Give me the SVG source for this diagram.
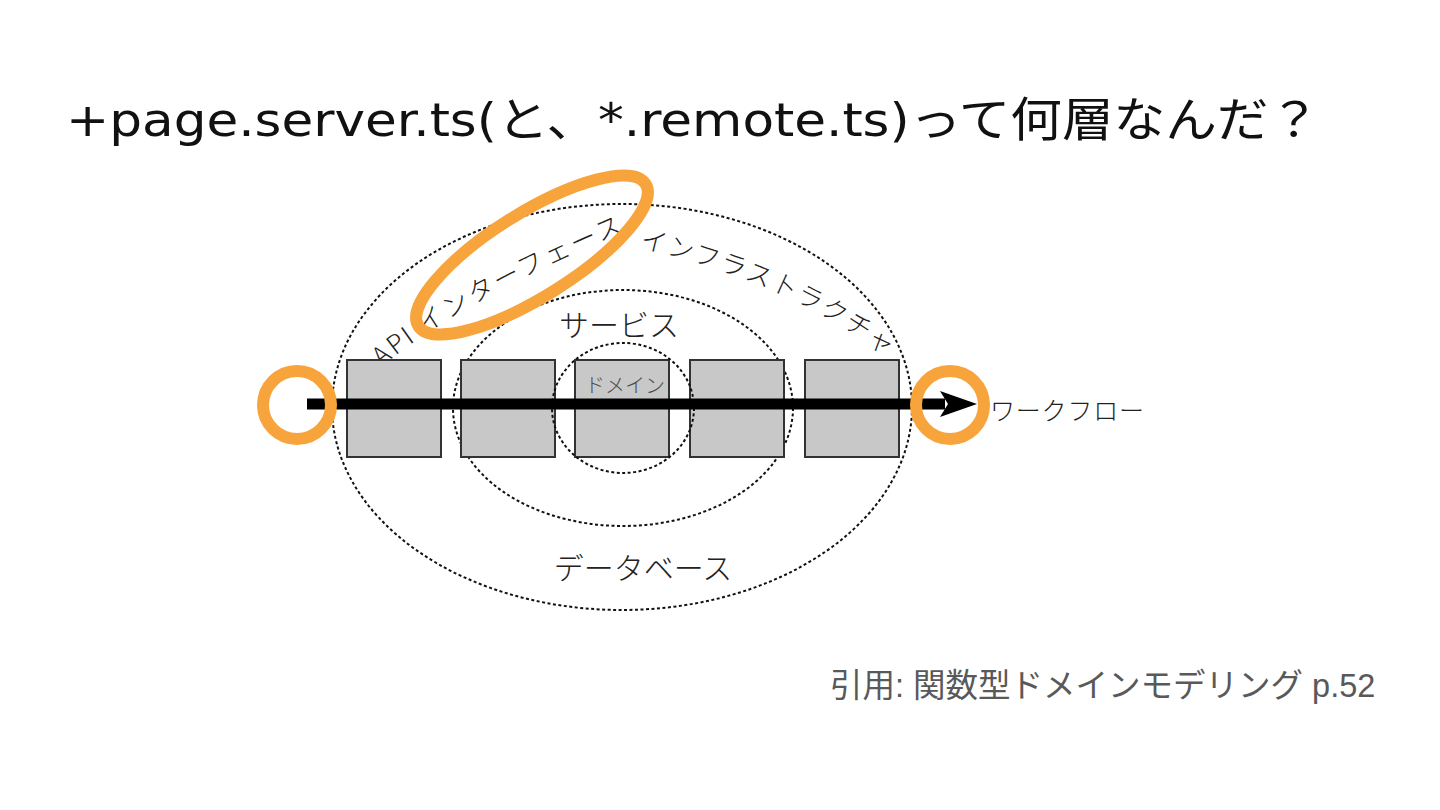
<svg xmlns="http://www.w3.org/2000/svg" xmlns:xlink="http://www.w3.org/1999/xlink" width="1440" height="810" viewBox="0 0 1440 810">
  <style>
    .title { font-family: "DejaVu Sans", "Noto Sans CJK JP", sans-serif; font-size: 47px; fill: #111; }
    .cite { font-family: "Liberation Sans", "Noto Sans CJK JP", sans-serif; font-size: 32.5px; fill: #595959; }
    .lbl { font-family: "Noto Sans CJK JP", "Noto Sans", sans-serif; fill: #222; font-weight: 300; }
    .layer { fill: none; stroke: #111; stroke-width: 2; stroke-dasharray: 3 2.5; }
    .box { fill: #c8c8c8; stroke: #333; stroke-width: 2; }
    .hl { fill: none; stroke: #F7A43C; stroke-width: 12; }
  </style>
  <defs>
    <marker id="head" viewBox="0 0 40 28" refX="5" refY="14" markerWidth="40" markerHeight="28" markerUnits="userSpaceOnUse" orient="auto">
      <path d="M0,1 L37,14 L0,27 L8,14 Z" fill="#000"/>
    </marker>
    <path id="apiPath" d="M 374 358 Q 452 290 640 212"/>
    <path id="infraPath" d="M 642 236 Q 800 272 900 352"/>
  </defs>

  <rect x="0" y="0" width="1440" height="810" fill="#fff"/>

  <text class="title" x="66" y="136" textLength="1254" lengthAdjust="spacingAndGlyphs">+page.server.ts(と、*.remote.ts)って何層なんだ？</text>

  <g id="layer-database">
    <ellipse class="layer" cx="622" cy="407" rx="290" ry="203"/>
    <text class="lbl" x="643" y="579" font-size="30" text-anchor="middle">データベース</text>
  </g>
  <g id="layer-service">
    <ellipse class="layer" cx="623" cy="408" rx="170" ry="118"/>
    <text class="lbl" x="619" y="336" font-size="30" text-anchor="middle">サービス</text>
  </g>
  <g id="label-api">
    <text class="lbl" font-size="26" dominant-baseline="central" letter-spacing="3"><textPath href="#apiPath" xlink:href="#apiPath">API インターフェース</textPath></text>
  </g>
  <g id="label-infra">
    <text class="lbl" font-size="26" dominant-baseline="central" letter-spacing="2"><textPath href="#infraPath" xlink:href="#infraPath">インフラストラクチャ</textPath></text>
  </g>

  <g id="box-1"><rect class="box" x="347" y="360" width="94" height="97"/></g>
  <g id="box-2"><rect class="box" x="461" y="360" width="94" height="97"/></g>
  <g id="box-3"><rect class="box" x="575" y="360" width="94" height="97"/></g>
  <g id="box-4"><rect class="box" x="690" y="360" width="94" height="97"/></g>
  <g id="box-5"><rect class="box" x="805" y="360" width="94" height="97"/></g>

  <g id="layer-domain">
    <ellipse class="layer" cx="623" cy="408" rx="71" ry="65"/>
    <text class="lbl" x="625" y="393" font-size="20" style="fill:#4a4a4a" text-anchor="middle">ドメイン</text>
  </g>

  <g id="connectors">
    <line x1="307" y1="404" x2="945" y2="404" stroke="#000" stroke-width="11" marker-end="url(#head)"/>
  </g>

  <g id="workflow-label">
    <text class="lbl" x="990" y="420" font-size="25" letter-spacing="0.8">ワークフロー</text>
  </g>

  <g id="highlights">
    <circle class="hl" cx="297" cy="405" r="34"/>
    <circle class="hl" cx="950" cy="405" r="34"/>
    <ellipse class="hl" cx="532" cy="255" rx="134" ry="42" transform="rotate(-32 532 255)"/>
  </g>

  <text class="cite" x="830" y="697">引用: 関数型ドメインモデリング p.52</text>
</svg>
